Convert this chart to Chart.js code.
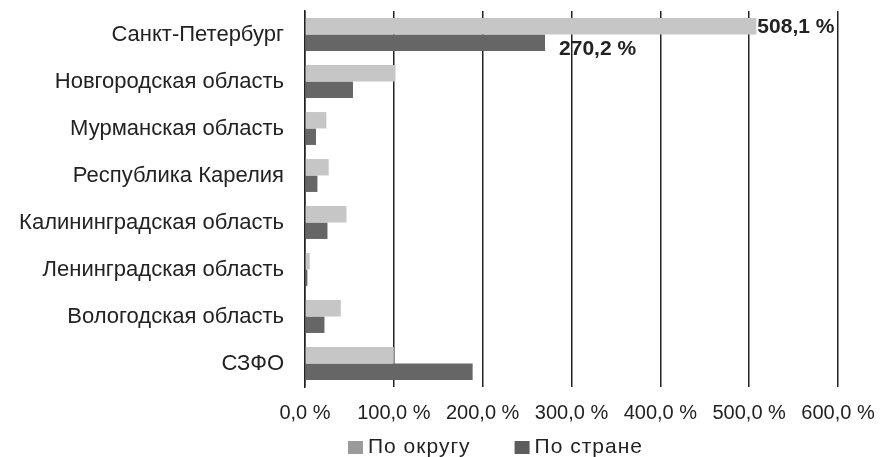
<!DOCTYPE html>
<html>
<head>
<meta charset="utf-8">
<script src="https://cdn.jsdelivr.net/npm/chart.js@4.4.1/dist/chart.umd.min.js"></script>
<style>
  html, body { margin: 0; padding: 0; background: #fff; }
  #wrap { width: 892px; height: 457px; }
</style>
</head>
<body>
<div id="wrap"><canvas id="chartcanvas"></canvas></div>
<script>
var regions = ["Санкт-Петербург", "Новгородская область", "Мурманская область", "Республика Карелия",
  "Калининградская область", "Ленинградская область", "Вологодская область", "СЗФО"];
var poOkrugu = [508.1, 101.9, 24.1, 26.7, 46.7, 5.3, 40.3, 100.0];
var poStrane = [270.2, 54.0, 12.4, 14.0, 25.3, 2.7, 21.9, 188.7];
var xTicks = [0, 100, 200, 300, 400, 500, 600];
var labelledRows = [0];
var legendColors = ["#9a9a9a", "#5c5c5c"];

var FONT = "'Liberation Sans', Arial, sans-serif";

function fmt(v) {
  return v.toFixed(1).replace(".", ",") + " %";
}

// value labels next to the bars of the first row
var valueLabels = {
  id: "valueLabels",
  afterDatasetsDraw: function(chart) {
    var ctx = chart.ctx;
    ctx.save();
    ctx.font = "bold 21px " + FONT;
    ctx.fillStyle = "#222";
    ctx.textBaseline = "middle";
    ctx.textAlign = "left";
    chart.data.datasets.forEach(function(ds, di) {
      var meta = chart.getDatasetMeta(di);
      labelledRows.forEach(function(i) {
        var bar = meta.data[i];
        ctx.fillText(fmt(ds.data[i]), bar.x + (di === 0 ? 1 : 14), bar.y + (di === 0 ? 1 : 6));
      });
    });
    ctx.restore();
  }
};

// legend under the axis
var bottomLegend = {
  id: "bottomLegend",
  afterDraw: function(chart) {
    var ctx = chart.ctx;
    var y = chart.chartArea.bottom + 60;
    var x = chart.chartArea.left + 43;
    ctx.save();
    ctx.font = "21px " + FONT;
    ctx.letterSpacing = "1px";
    ctx.textBaseline = "middle";
    ctx.textAlign = "left";
    chart.data.datasets.forEach(function(ds, i) {
      ctx.fillStyle = legendColors[i];
      ctx.fillRect(x, y - 6, 15, 13);
      ctx.fillStyle = "#222";
      ctx.fillText(ds.label, x + 20, y);
      x += 20 + ctx.measureText(ds.label).width + 44;
    });
    ctx.letterSpacing = "0px";
    ctx.restore();
  }
};

var chartdata = {
  labels: regions,
  datasets: [
    {
      label: "По округу",
      backgroundColor: "#c6c6c6",
      borderWidth: 0,
      data: poOkrugu
    },
    {
      label: "По стране",
      backgroundColor: "#666666",
      borderWidth: 0,
      data: poStrane
    }
  ]
};

var ctx = document.getElementById("chartcanvas");
var BarGraph = new Chart(ctx, {
  type: "bar",
  data: chartdata,
  plugins: [valueLabels, bottomLegend],
  options: {
    indexAxis: "y",
    responsive: true,
    maintainAspectRatio: false,
    animation: false,
    layout: { padding: { top: 11, right: 54, bottom: 32, left: 0 } },
    datasets: { bar: { categoryPercentage: 0.70, barPercentage: 1.0 } },
    plugins: {
      legend: { display: false },
      tooltip: { enabled: false }
    },
    scales: {
      x: {
        min: 0, max: 600,
        afterBuildTicks: function(scale) {
          scale.ticks = xTicks.map(function(v) { return { value: v }; });
        },
        afterFit: function(scale) {
          scale.height = 38;
          scale.paddingLeft = 0;
          scale.paddingRight = 0;
        },
        grid: { color: "#222", lineWidth: 1.5, drawTicks: false, drawOnChartArea: true },
        border: { display: false },
        ticks: {
          color: "#222", padding: 14, maxRotation: 0, autoSkip: false,
          font: { family: FONT, size: 20 },
          callback: function(v) { return fmt(v); }
        }
      },
      y: {
        afterFit: function(scale) {
          scale.width = 305;
          scale.paddingTop = 0;
          scale.paddingBottom = 0;
        },
        grid: { display: false, drawTicks: false },
        border: { display: true, color: "#222", width: 1.5 },
        ticks: {
          color: "#222", padding: 21,
          font: { family: FONT, size: 22 }
        }
      }
    }
  }
});
</script>
</body>
</html>
